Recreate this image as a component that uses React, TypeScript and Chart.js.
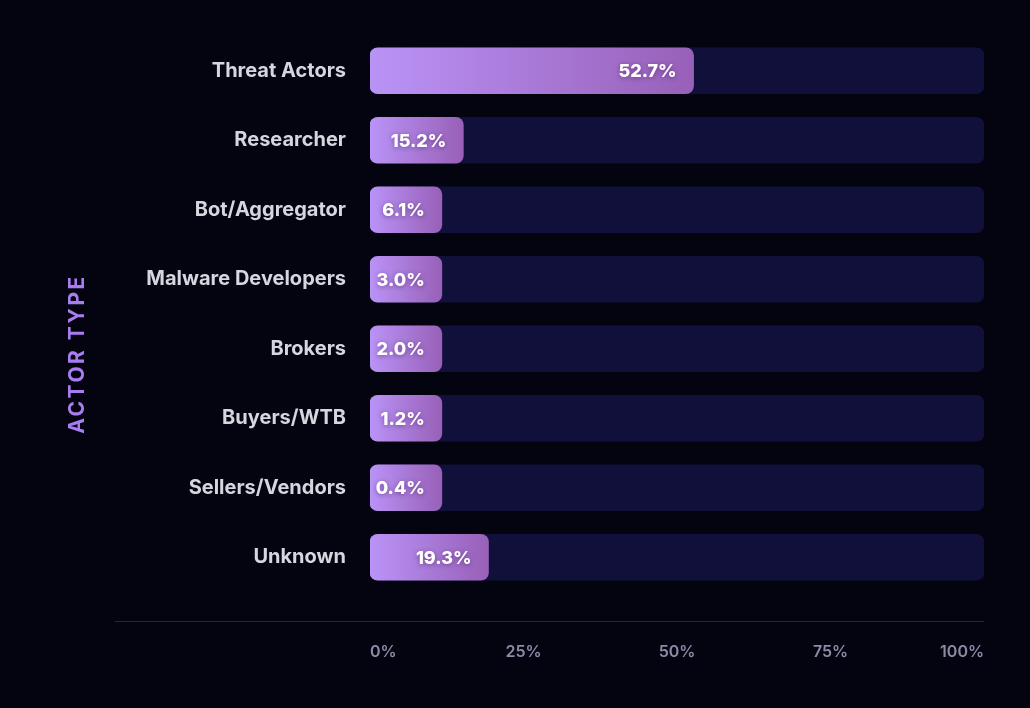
import React, { useEffect, useRef } from "react";
import { Chart, registerables } from "chart.js";

Chart.register(...registerables);

const categories = [
  "Threat Actors",
  "Researcher",
  "Bot/Aggregator",
  "Malware Developers",
  "Brokers",
  "Buyers/WTB",
  "Sellers/Vendors",
  "Unknown",
];
const shares = [52.7, 15.2, 6.1, 3.0, 2.0, 1.2, 0.4, 19.3];
const trackValues = [100, 100, 100, 100, 100, 100, 100, 100];
const tickValues = [0, 25, 50, 75, 100];
const axisTitle = "ACTOR TYPE";

const MIN_VISIBLE = 11.7;
const FONT = "Inter, 'Noto Sans', sans-serif";

export default function App() {
  const ref = useRef<HTMLCanvasElement | null>(null);

  useEffect(() => {
    document.body.style.margin = "0";
    document.body.style.background = "#03040f";
    const canvas = ref.current;
    if (!canvas) return;

    const shown = shares.map((v) => Math.max(v, MIN_VISIBLE));

    const decor = {
      id: "decor",
      beforeDraw(chart: any) {
        const { ctx, width, height } = chart;
        ctx.save();
        ctx.fillStyle = "#03040f";
        ctx.fillRect(0, 0, width, height);
        ctx.restore();
      },
      afterDraw(chart: any) {
        const { ctx, chartArea, height } = chart;
        ctx.save();
        ctx.strokeStyle = "#24244f";
        ctx.lineWidth = 1;
        ctx.beginPath();
        ctx.moveTo(115, 621.5);
        ctx.lineTo(chartArea.right, 621.5);
        ctx.stroke();
        ctx.translate(78, height / 2);
        ctx.rotate(-Math.PI / 2);
        ctx.fillStyle = "#a97cf2";
        ctx.font = `700 21px ${FONT}`;
        (ctx as any).letterSpacing = "2.5px";
        ctx.textAlign = "center";
        ctx.textBaseline = "middle";
        ctx.fillText(axisTitle, 0, 0);
        ctx.restore();
      },
      afterDatasetsDraw(chart: any) {
        const { ctx } = chart;
        const meta = chart.getDatasetMeta(1);
        ctx.save();
        ctx.font = `800 18px ${FONT}`;
        ctx.fillStyle = "#ffffff";
        ctx.textAlign = "right";
        ctx.textBaseline = "middle";
        ctx.shadowColor = "rgba(40,0,60,0.45)";
        ctx.shadowBlur = 5;
        ctx.shadowOffsetY = 1;
        meta.data.forEach((bar: any, i: number) => {
          ctx.fillText(`${shares[i].toFixed(1)}%`, bar.x - 17, bar.y + 1);
        });
        ctx.restore();
      },
    };

    const chart = new Chart(canvas, {
      type: "bar",
      data: {
        labels: categories,
        datasets: [
          {
            label: "track",
            data: trackValues,
            backgroundColor: "#10103a",
            borderRadius: 8,
            borderSkipped: false,
            barThickness: 46,
            grouped: false,
            order: 2,
          },
          {
            label: "share",
            data: shown,
            backgroundColor: (c: any) => {
              const ch = c.chart;
              const xs = ch.scales.x;
              if (!xs || !ch.chartArea) return "#a77bdf";
              const v = shown[c.dataIndex] ?? 0;
              const x0 = xs.getPixelForValue(0);
              const x1 = xs.getPixelForValue(v);
              const g = ch.ctx.createLinearGradient(x0, 0, x1, 0);
              g.addColorStop(0, "#ba93f7");
              g.addColorStop(1, "#9860b8");
              return g;
            },
            borderRadius: 8,
            borderSkipped: false,
            barThickness: 46,
            grouped: false,
            order: 1,
          },
        ],
      },
      options: {
        indexAxis: "y",
        animation: false,
        responsive: false,
        maintainAspectRatio: false,
        layout: { padding: { left: 0, right: 46, top: 33, bottom: 0 } },
        plugins: {
          legend: { display: false },
          tooltip: { enabled: false },
        },
        scales: {
          x: {
            min: 0,
            max: 100,
            afterBuildTicks: (s: any) => {
              s.ticks = tickValues.map((v) => ({ value: v }));
            },
            afterFit: (s: any) => {
              s.height = 116;
              s.paddingLeft = 0;
              s.paddingRight = 0;
            },
            grid: { display: false, drawTicks: false },
            border: { display: false },
            ticks: {
              align: "inner",
              padding: 51,
              color: "#8b8ba8",
              font: { family: FONT, size: 16, weight: "600" },
              callback: (v: any) => `${v}%`,
            },
          },
          y: {
            afterFit: (s: any) => {
              s.width = 370;
            },
            grid: { display: false, drawTicks: false },
            border: { display: false },
            ticks: {
              padding: 24,
              color: "#d6d6de",
              font: { family: FONT, size: 20, weight: "bold" },
            },
          },
        },
      },
      plugins: [decor],
    } as any);

    return () => chart.destroy();
  }, []);

  return (
    <div style={{ width: 1030, height: 708, background: "#03040f" }}>
      <canvas ref={ref} width={1030} height={708} style={{ display: "block" }} />
    </div>
  );
}
